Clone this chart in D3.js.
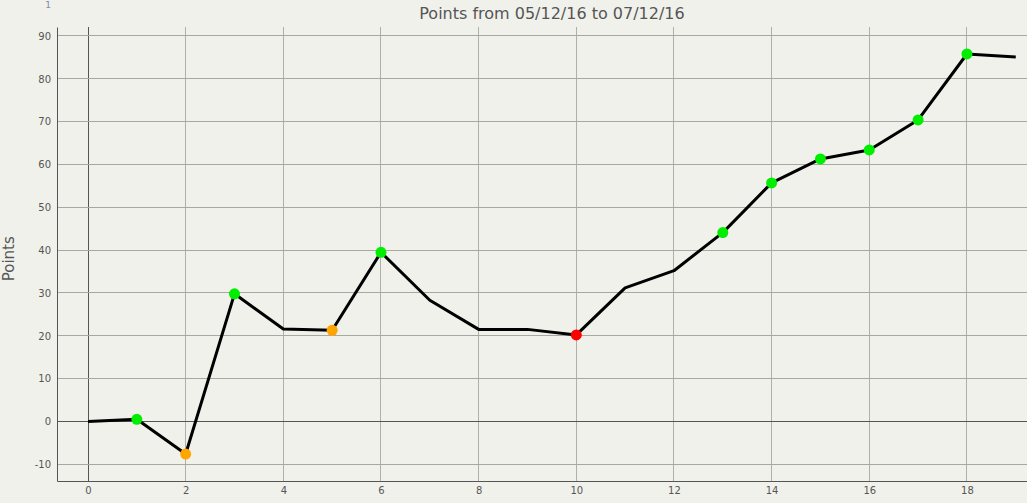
<!DOCTYPE html>
<html>
<head>
<meta charset="utf-8">
<script src="https://cdn.jsdelivr.net/npm/d3@7"></script>
<style>
  body { margin: 0; background: #f1f1ec; }
  svg { display: block; font-family: "DejaVu Sans", Verdana, sans-serif; }
</style>
</head>
<body>
<svg id="chart" width="1027" height="503"></svg>
<script>
// Data
const days = [0, 1, 2, 3, 4, 5, 6, 7, 8, 9, 10, 11, 12, 13, 14, 15, 16, 17, 18, 19];
const points = [0, 0.5, -7.6, 29.8, 21.6, 21.3, 39.5, 28.3, 21.5, 21.5, 20.2, 31.2, 35.2, 44.1, 55.7, 61.3, 63.4, 70.4, 85.8, 85.1];
// marker colour per day ("" = no marker)
const markers = ["", "green", "orange", "green", "", "orange", "green", "", "", "", "red", "", "", "green", "green", "green", "green", "green", "green", ""];
const xTicks = [0, 2, 4, 6, 8, 10, 12, 14, 16, 18];
const yTicks = [-10, 0, 10, 20, 30, 40, 50, 60, 70, 80, 90];

const COLORS = { green: "#00ee00", orange: "#ffa500", red: "#ff0000" };

const width = 1027, height = 503;
const margin = { top: 27, right: 0, bottom: 22, left: 57 };

const svg = d3.select("#chart");

const x = d3.scaleLinear()
  .domain([-0.635, 19.23])
  .range([margin.left, width - margin.right]);

const y = d3.scaleLinear()
  .domain([-13.9, 92.1])
  .range([height - margin.bottom, margin.top]);

// grid
const grid = svg.append("g");
grid.selectAll(".gx")
  .data(xTicks)
  .join("line")
  .attr("x1", d => x(d)).attr("x2", d => x(d))
  .attr("y1", margin.top).attr("y2", height - margin.bottom)
  .attr("stroke", d => d === 0 ? "#555" : "#b0b0aa")
  .attr("stroke-width", 1)
  .attr("shape-rendering", "crispEdges");

grid.selectAll(".gy")
  .data(yTicks)
  .join("line")
  .attr("x1", margin.left).attr("x2", width - margin.right)
  .attr("y1", d => y(d)).attr("y2", d => y(d))
  .attr("stroke", d => d === 0 ? "#555" : "#a8a8a2")
  .attr("stroke-width", 1)
  .attr("shape-rendering", "crispEdges");

// axes
const plain = d => String(d);

const xAxis = g => g
  .attr("transform", `translate(0,${height - margin.bottom})`)
  .call(d3.axisBottom(x).tickValues(xTicks).tickFormat(plain).tickSize(0).tickPadding(6))
  .call(g => g.select(".domain").attr("stroke", "#555"));

const yAxis = g => g
  .attr("transform", `translate(${margin.left},0)`)
  .call(d3.axisLeft(y).tickValues(yTicks).tickFormat(plain).tickSize(0).tickPadding(6))
  .call(g => g.select(".domain").attr("stroke", "#555"));

svg.append("g").call(xAxis);
svg.append("g").call(yAxis);
svg.selectAll(".tick text")
  .attr("fill", "#555")
  .attr("font-size", 10)
  .attr("font-family", "DejaVu Sans, Verdana, sans-serif");

// line
const line = d3.line()
  .x((d, i) => x(days[i]))
  .y(d => y(d));

svg.append("path")
  .datum(points)
  .attr("fill", "none")
  .attr("stroke", "#000")
  .attr("stroke-width", 3)
  .attr("stroke-linejoin", "round")
  .attr("d", line);

// markers
svg.append("g")
  .selectAll("circle")
  .data(days.filter(i => markers[i] !== ""))
  .join("circle")
  .attr("cx", d => x(d))
  .attr("cy", d => y(points[d]))
  .attr("r", 5.5)
  .attr("fill", d => COLORS[markers[d]]);

// titles
svg.append("text")
  .attr("x", 552)
  .attr("y", 19)
  .attr("text-anchor", "middle")
  .attr("font-size", 16)
  .attr("fill", "#555")
  .text("Points from 05/12/16 to 07/12/16");

svg.append("text")
  .attr("transform", `translate(14,${y(38)}) rotate(-90)`)
  .attr("text-anchor", "middle")
  .attr("font-size", 15)
  .attr("fill", "#555")
  .text("Points");

svg.append("text")
  .attr("x", 48)
  .attr("y", 8)
  .attr("text-anchor", "middle")
  .attr("font-size", 9)
  .attr("fill", "#8888aa")
  .text("1");
</script>
</body>
</html>
